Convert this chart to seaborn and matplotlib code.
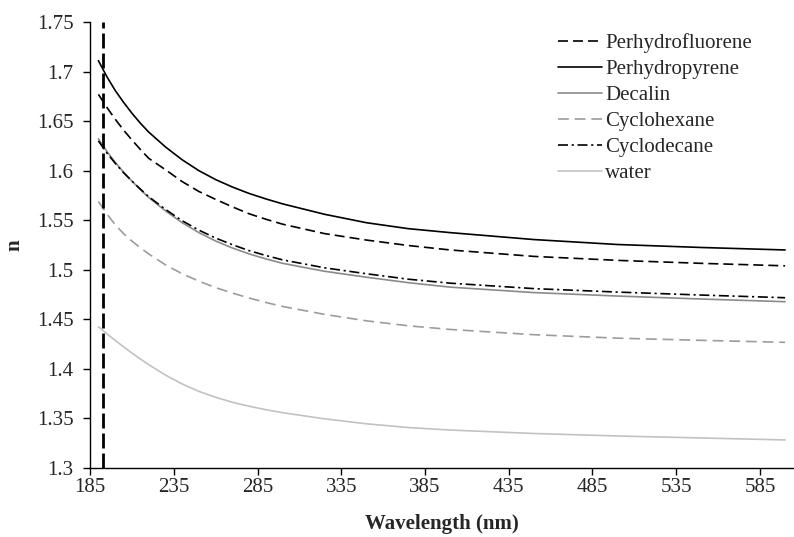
#!/usr/bin/env python3

import seaborn as sns
import matplotlib
matplotlib.use("Agg")
import matplotlib.pyplot as plt
from matplotlib.ticker import FuncFormatter

# wavelength grid (nm)
wavelength = [190, 195, 200, 205, 210, 215, 220, 230, 240, 250, 260, 270, 280, 290, 300,
              325, 350, 375, 400, 450, 500, 550, 600]

perhydrofluorene = [1.677, 1.664, 1.652, 1.641, 1.631, 1.6215, 1.6125, 1.601, 1.589, 1.579,
                    1.571, 1.5635, 1.5565, 1.551, 1.546, 1.5365, 1.530, 1.5245, 1.520,
                    1.5135, 1.5095, 1.5065, 1.504]
perhydropyrene = [1.711, 1.695, 1.681, 1.669, 1.658, 1.648, 1.639, 1.624, 1.611, 1.600,
                  1.591, 1.5835, 1.577, 1.5715, 1.5665, 1.556, 1.5475, 1.5415, 1.5375,
                  1.5305, 1.5255, 1.5225, 1.520]
decalin = [1.632, 1.6195, 1.6085, 1.5985, 1.5895, 1.581, 1.573, 1.5595, 1.5475, 1.5375,
           1.529, 1.522, 1.516, 1.511, 1.5065, 1.4985, 1.4925, 1.487, 1.4825,
           1.477, 1.4735, 1.4705, 1.4678]
cyclohexane = [1.569, 1.5565, 1.5455, 1.5365, 1.529, 1.5222, 1.516, 1.505, 1.496, 1.4885,
               1.482, 1.4765, 1.4715, 1.467, 1.463, 1.455, 1.4485, 1.4435, 1.4398,
               1.4345, 1.431, 1.4288, 1.4268]
cyclodecane = [1.630, 1.618, 1.6075, 1.598, 1.5895, 1.5815, 1.5738, 1.561, 1.5495, 1.540,
               1.532, 1.5253, 1.5193, 1.5144, 1.510, 1.502, 1.496, 1.4905, 1.4865,
               1.481, 1.4775, 1.4745, 1.4718]
water = [1.4425, 1.4355, 1.4288, 1.4223, 1.416, 1.410, 1.4043, 1.3938, 1.3848, 1.3773,
         1.3713, 1.3663, 1.3623, 1.3588, 1.3558, 1.3496, 1.3446, 1.3408, 1.3383,
         1.3348, 1.3323, 1.3303, 1.3283]

cutoff = 193  # vertical marker (nm)
xticks = [185, 235, 285, 335, 385, 435, 485, 535, 585]
yticks = [1.3, 1.35, 1.4, 1.45, 1.5, 1.55, 1.6, 1.65, 1.7, 1.75]


def ShowProblem():
    sns.set_style("ticks")
    plt.rcParams['font.family'] = ['Liberation Serif', 'DejaVu Serif']

    fig = plt.figure(figsize=(7.94, 5.37), dpi=100)
    ax = fig.add_axes([0.1134, 0.1285, 0.8853, 0.8305])

    series = [
        ("Perhydrofluorene", perhydrofluorene, "black", (0, (6, 3))),
        ("Perhydropyrene", perhydropyrene, "black", "-"),
        ("Decalin", decalin, "#8a8a8a", "-"),
        ("Cyclohexane", cyclohexane, "#9c9c9c", (0, (6.5, 3.5))),
        ("Cyclodecane", cyclodecane, "black", (0, (6, 2.2, 1.3, 2.2))),
        ("water", water, "#c2c2c2", "-"),
    ]
    for name, vals, col, ls in series:
        sns.lineplot(x=wavelength, y=vals, color=col, linestyle=ls,
                     linewidth=1.2, label=name, ax=ax)

    ax.axvline(cutoff, color="black", linewidth=2.0, linestyle=(0, (5.4, 1.8)))

    ax.set_xlim(185, 604.7)
    ax.set_ylim(1.3, 1.75)
    ax.set_xticks(xticks)
    ax.set_yticks(yticks)
    ax.yaxis.set_major_formatter(FuncFormatter(lambda v, p: f"{v:g}"))
    ax.tick_params(labelsize=15, length=5, width=1, color="black")
    ax.tick_params(axis="y", pad=7)
    ax.tick_params(axis="x", pad=2.5)
    sns.despine(ax=ax)
    for s in ["left", "bottom"]:
        ax.spines[s].set_color("black")
        ax.spines[s].set_linewidth(1)

    ax.set_xlabel("Wavelength (nm)", fontsize=15, fontweight="bold", labelpad=12)
    ax.set_ylabel("n", fontsize=15, fontweight="bold", labelpad=9)

    ax.legend(loc="upper left", frameon=False, fontsize=15, handlelength=2.1,
              handletextpad=0.15, labelspacing=0.31, borderaxespad=0, borderpad=0,
              bbox_to_anchor=(0.666, 0.975))

    fig.savefig("out.png", dpi=100)


if __name__ == "__main__":
    ShowProblem()
